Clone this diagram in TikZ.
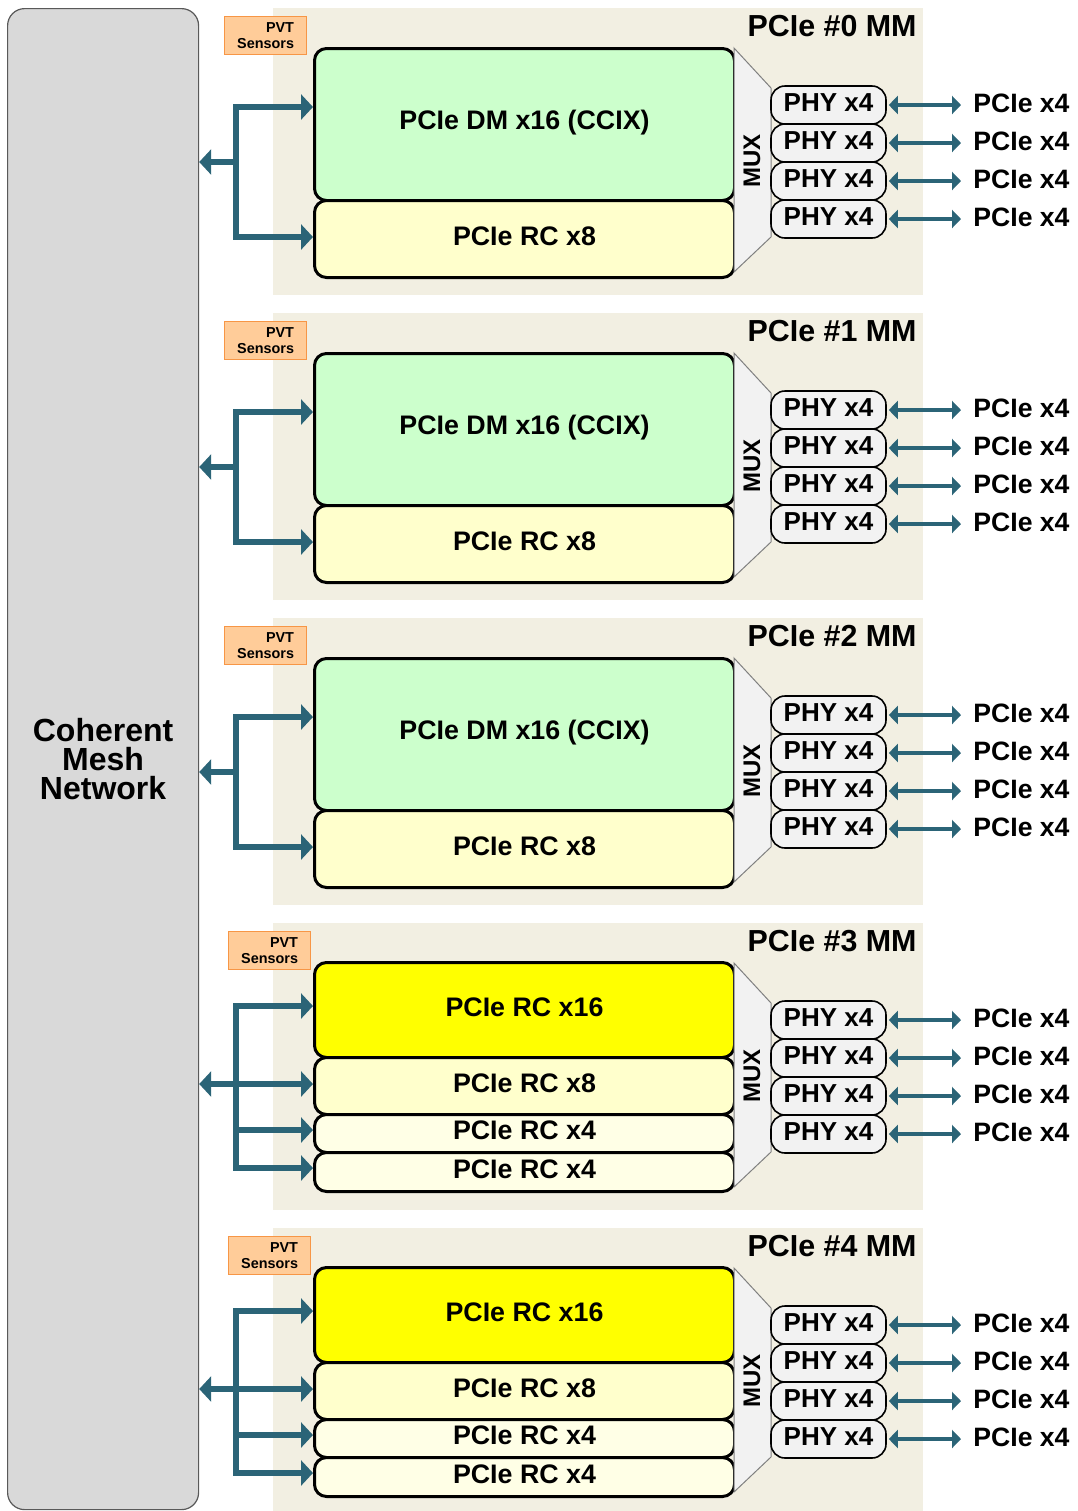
\documentclass[tikz,border=0pt]{standalone}
\usepackage{fontspec}
\setmainfont{Liberation Sans}
\usetikzlibrary{arrows.meta}
\definecolor{linkblue}{HTML}{2B6477}
\definecolor{panelbg}{HTML}{F2EFE2}
\definecolor{pvtfill}{HTML}{FFCC99}
\definecolor{pvtline}{HTML}{F79646}
\definecolor{dmgreen}{HTML}{CCFFCC}
\definecolor{rceight}{HTML}{FFFFCC}
\definecolor{rcfour}{HTML}{FFFFE6}
\definecolor{rcsixteen}{HTML}{FFFF00}
\definecolor{cmngray}{HTML}{D9D9D9}
\definecolor{muxgray}{HTML}{F2F2F2}
\tikzset{
    %Define standard arrow tip
    >={Triangle[length=6pt,width=12.5pt]},
    %Define style for the controller blocks
    block/.style={
           rectangle,
           rounded corners=6pt,
           draw=black, line width=1.5pt,
           minimum width=210pt,
           anchor=north west,
           inner sep=0pt,
           text depth=3pt,
           font=\bfseries\fontsize{13.4}{15}\selectfont},
    dmblock/.style={block, fill=dmgreen, text depth=5pt},
    rcbig/.style={block, fill=rcsixteen},
    rcmid/.style={block, fill=rceight},
    rcsmall/.style={block, fill=rcfour},
    pvt/.style={
           rectangle,
           draw=pvtline, line width=0.6pt, fill=pvtfill,
           minimum width=41pt, minimum height=19pt,
           anchor=north west, inner sep=0pt,
           align=right,
           font=\bfseries\fontsize{7.2}{7.8}\selectfont},
    phy/.style={
           rectangle,
           rounded corners=7pt,
           draw=black, line width=0.8pt, fill=muxgray,
           minimum width=57.5pt, minimum height=19pt,
           inner sep=0pt,
           text depth=2pt,
           font=\bfseries\fontsize{13}{15}\selectfont},
    port/.style={
           anchor=west, inner sep=4pt,
           text depth=2pt,
           font=\bfseries\fontsize{13.3}{15}\selectfont},
    title/.style={
           anchor=east, inner sep=0pt,
           font=\bfseries\fontsize{15.2}{17}\selectfont},
    muxlabel/.style={
           rotate=90, inner sep=0pt,
           font=\bfseries\fontsize{12}{14}\selectfont},
    mux/.style={draw=gray, line width=0.5pt, fill=muxgray},
    % Define arrow styles
    bus/.style={
           draw=linkblue,
           line width=2.6pt,
           line cap=rect},
    link/.style={
           <->,
           >={Triangle[length=4.5pt,width=9pt]},
           draw=linkblue,
           line width=1.9pt,
           shorten <=1pt,
           shorten >=2pt},
}
\begin{document}
\begin{tikzpicture}[x=0.5pt,y=-0.5pt]
\useasboundingbox (0,0) rectangle (1077,1511);
\node[rectangle, rounded corners=8.5pt, draw=black!65, line width=0.6pt, fill=cmngray,
      minimum width=95.5pt, minimum height=750.5pt, anchor=north west, align=center,
      font=\bfseries\fontsize{16}{14.5}\selectfont] (cmn) at (7,8) {Coherent\\Mesh\\Network};
\foreach \k in {0,...,4}{
  \pgfmathsetmacro{\T}{8+305*\k}
  \pgfmathsetmacro{\pvtx}{\k<3 ? 224 : 228}
  \fill[panelbg] (273,\T) rectangle (923,\T+287);
  \node[title] (title\k) at (917,\T+18) {PCIe \#\k\ MM};
  \node[pvt] (pvt\k) at (\pvtx,\T+8) {PVT\\Sensors};
  \ifnum\k<3
    \node[dmblock, minimum height=76pt] (top\k) at (313,\T+39) {PCIe DM x16 (CCIX)};
    \node[rcmid, minimum height=38.5pt] (rca\k) at (313,\T+191) {PCIe RC x8};
    \coordinate (bt\k) at (236,\T+99);
    \coordinate (bm\k) at (236,\T+154);
    \coordinate (bb\k) at (236,\T+229);
    \draw[bus] (bt\k) -- (bb\k);
    \draw[bus,->] (bt\k) -- (bt\k -| top\k.west);
    \draw[bus,->] (bb\k) -- (bb\k -| rca\k.west);
  \else
    \node[rcbig, minimum height=47.5pt] (top\k) at (313,\T+38) {PCIe RC x16};
    \node[rcmid, minimum height=28.5pt] (rca\k) at (313,\T+133) {PCIe RC x8};
    \node[rcsmall, minimum height=19pt] (rcb\k) at (313,\T+190) {PCIe RC x4};
    \node[rcsmall, minimum height=19.5pt] (rcc\k) at (313,\T+228) {PCIe RC x4};
    \coordinate (bt\k) at (236,\T+83);
    \coordinate (bm\k) at (236,\T+161);
    \coordinate (bc\k) at (236,\T+207);
    \coordinate (bb\k) at (236,\T+245);
    \draw[bus] (bt\k) -- (bb\k);
    \draw[bus,->] (bt\k) -- (bt\k -| top\k.west);
    \draw[bus,->] (bm\k) -- (bm\k -| rca\k.west);
    \draw[bus,->] (bc\k) -- (bc\k -| rcb\k.west);
    \draw[bus,->] (bb\k) -- (bb\k -| rcc\k.west);
  \fi
  \draw[bus,->] (bm\k) -- (bm\k -| cmn.east);
  % multiplexer in front of the lanes
  \draw[mux] (734,\T+40) -- (771,\T+80) -- (771,\T+229) -- (734,\T+264) -- cycle;
  \node[muxlabel] (mux\k) at (752,\T+153) {MUX};
  \foreach \i in {0,...,3}{
    \node[phy] (phy\k\i) at (828.5,\T+97+38*\i) {PHY x4};
    \node[port] (port\k\i) at (965,\T+97+38*\i) {PCIe x4};
    \draw[link] (phy\k\i) -- (port\k\i);
  }
}
\end{tikzpicture}
\end{document}
